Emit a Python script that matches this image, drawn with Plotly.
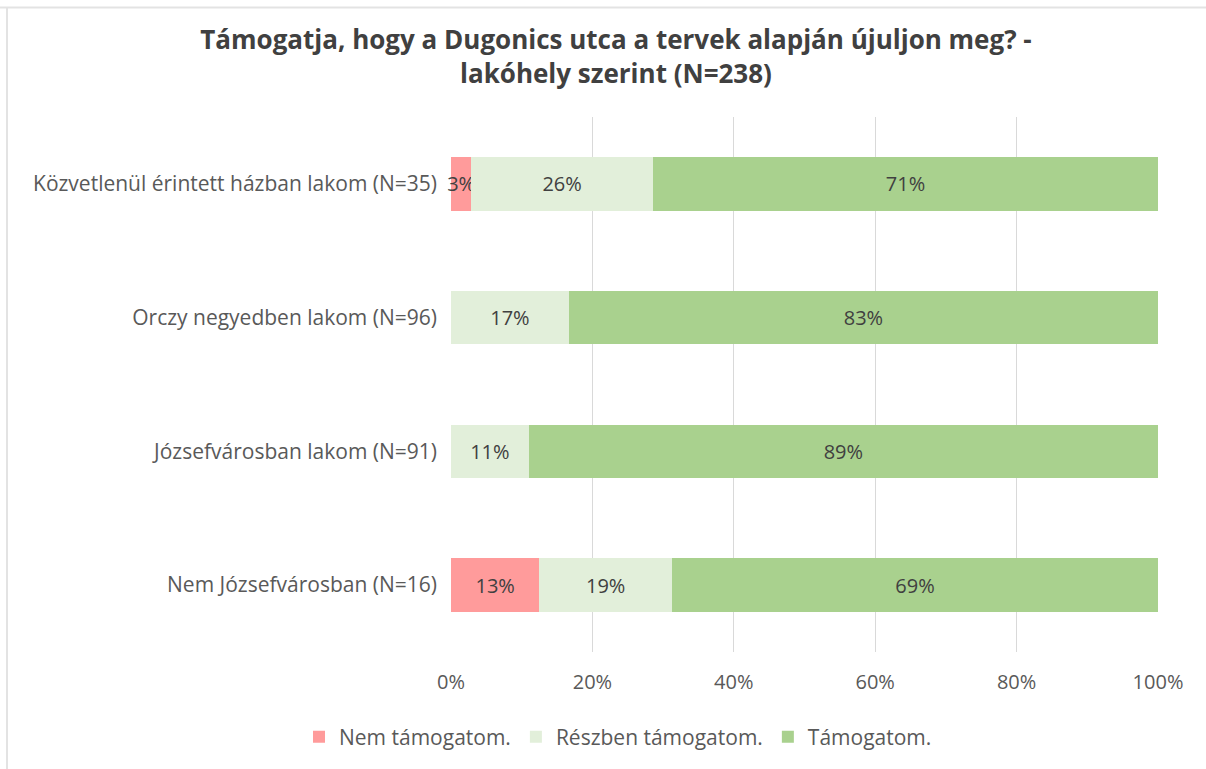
import math
import plotly.graph_objects as go

categories = [
    "Közvetlenül érintett házban lakom (N=35)",
    "Orczy negyedben lakom (N=96)",
    "Józsefvárosban lakom (N=91)",
    "Nem Józsefvárosban (N=16)",
]
series_names = ["Nem támogatom.", "Részben támogatom.", "Támogatom."]
nem = [2.86, 0.0, 0.0, 12.5]
reszben = [25.71, 16.67, 10.99, 18.75]
tamogat = [71.43, 83.33, 89.01, 68.75]
tick_vals = [0, 20, 40, 60, 80, 100]
tick_text = ["0%", "20%", "40%", "60%", "80%", "100%"]

colors = ["#FF9B9B", "#E2EFDA", "#A9D18E"]
txt = "#595959"
font_fam = "Open Sans, Segoe UI, sans-serif"
FS = 21


def pct(v):
    return f"{int(math.floor(v + 0.5))}%" if v > 0 else ""


fig = go.Figure()
for name, vals, col in zip(series_names, [nem, reszben, tamogat], colors):
    fig.add_trace(go.Bar(
        y=categories, x=vals, name=name, orientation="h",
        marker=dict(color=col, line=dict(width=0)),
        text=[pct(v) for v in vals],
        textposition="inside", insidetextanchor="middle", textangle=0,
        textfont=dict(color="#404040", size=20, family=font_fam),
        constraintext="none", cliponaxis=False,
        hoverinfo="x+y+name",
    ))

W, H = 1206, 769
L, R, T, B = 451, 48, 117, 117
pw, ph = W - L - R, H - T - B


def px(x):
    return (x - L) / pw


def py(y):
    return (H - B - y) / ph


fig.update_layout(
    width=W, height=H,
    barmode="stack", bargap=0.6,
    margin=dict(l=L, r=R, t=T, b=B),
    paper_bgcolor="white", plot_bgcolor="white",
    font=dict(family=font_fam, color=txt, size=FS),
    title=dict(
        text="Támogatja, hogy a Dugonics utca a tervek alapján újuljon meg? -<br>lakóhely szerint (N=238)",
        x=(616) / W, xref="container", xanchor="center", y=1 - 49 / H, yanchor="middle",
        font=dict(family=font_fam, size=26, color="#404040", weight="bold"),
    ),
    xaxis=dict(
        range=[0, 100], tickvals=tick_vals, ticktext=tick_text,
        showgrid=True, gridcolor="#D9D9D9", gridwidth=1,
        zeroline=False, showline=False, ticks="",
        tickfont=dict(size=20, color=txt), ticklabelstandoff=16,
        fixedrange=True,
    ),
    yaxis=dict(
        autorange="reversed", showgrid=False, showline=False, ticks="",
        tickfont=dict(size=FS, color=txt), ticklabelstandoff=13,
        fixedrange=True,
    ),
    legend=dict(
        orientation="h", x=px(618), xanchor="center", y=py(737), yanchor="middle",
        font=dict(size=FS, color=txt), traceorder="normal",
    ),
    shapes=[
        dict(type="line", xref="paper", yref="paper", x0=px(0), x1=px(W), y0=py(7.5), y1=py(7.5),
             line=dict(color="#E3E3E3", width=2)),
        dict(type="line", xref="paper", yref="paper", x0=px(7), x1=px(7), y0=py(7), y1=py(H),
             line=dict(color="#E3E3E3", width=2)),
    ],
)

fig.write_html("out.html", config={"displayModeBar": False},
               post_script="document.body.style.margin='0';")
